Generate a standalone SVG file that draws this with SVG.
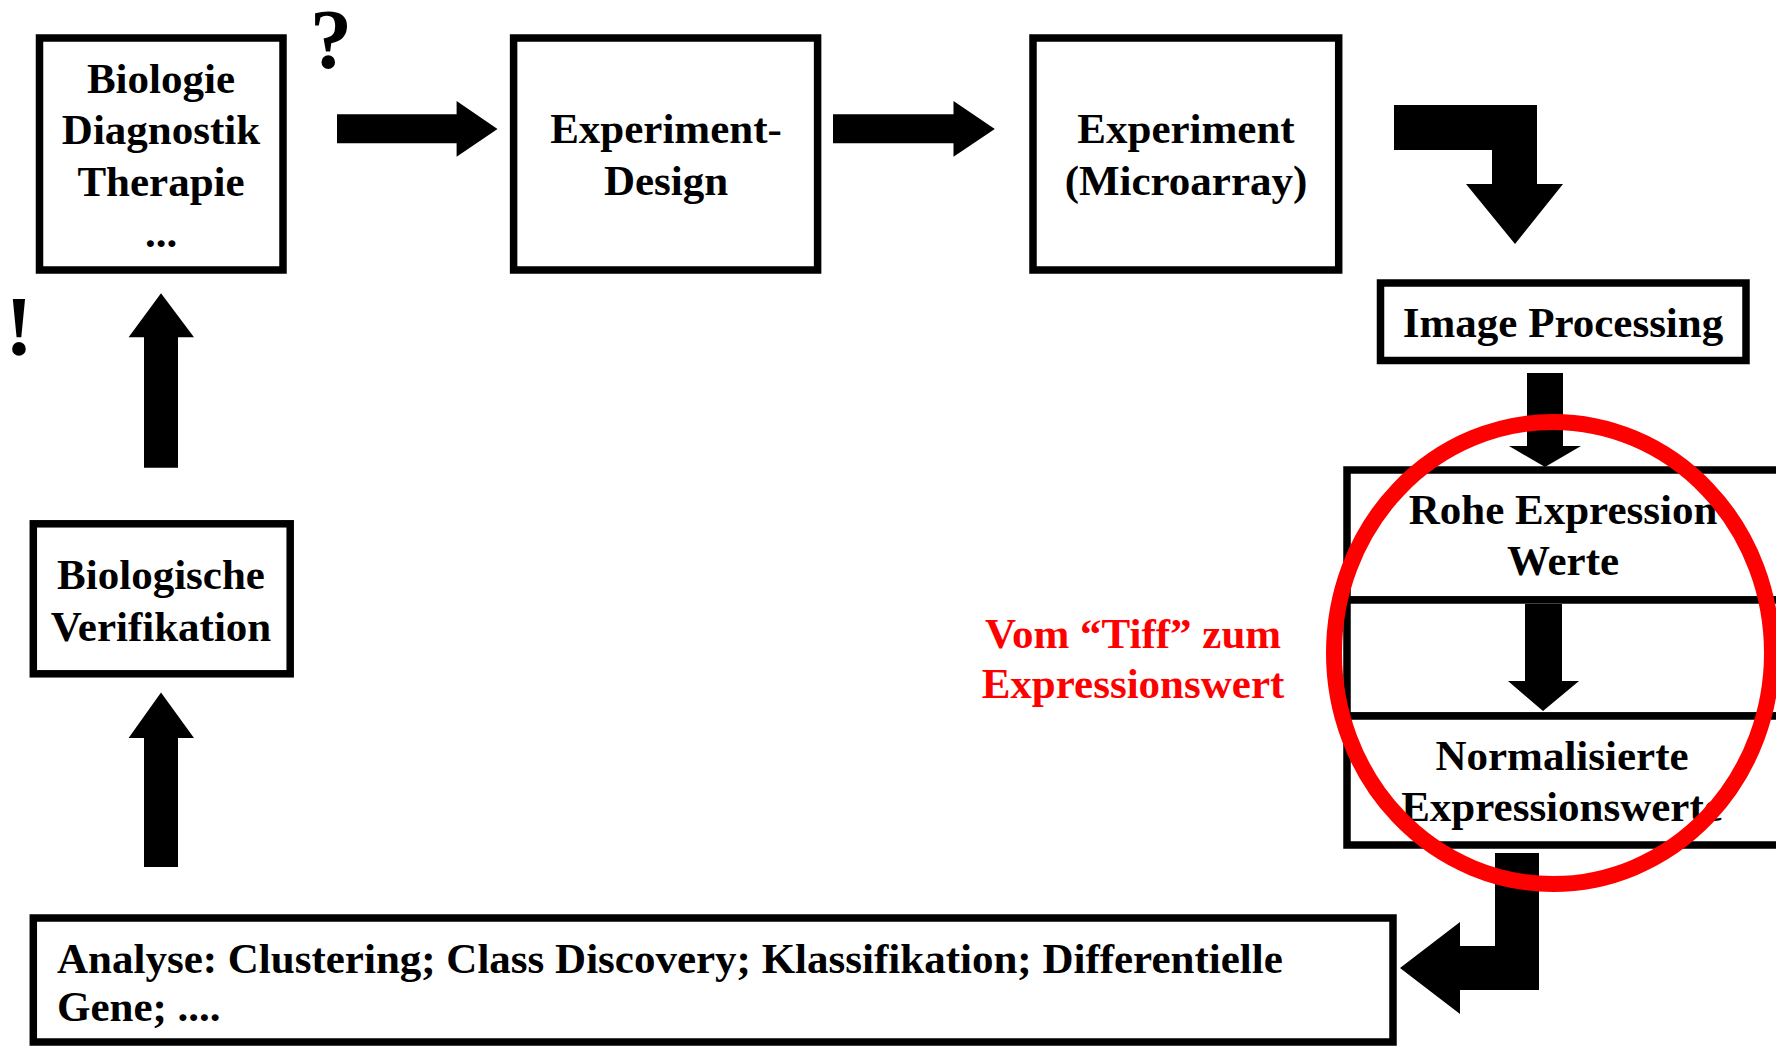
<svg xmlns="http://www.w3.org/2000/svg" width="1776" height="1046" viewBox="0 0 1776 1046">
<style>
.box{fill:#fff;stroke:#000;stroke-width:7.5}
.t{font-family:"Liberation Serif","Times New Roman",serif;font-weight:bold;font-size:43px;fill:#000;text-anchor:middle}
.l{text-anchor:start}
.big{font-size:84px}
.red{fill:#ff0000}
.arrow{fill:#000;stroke:none}
</style>
<rect width="1776" height="1046" fill="#fff"/>
<g id="connectors">
<polygon class="arrow" points="337,114.3 456.6,114.3 456.6,101 497.5,129 456.6,156.7 456.6,143.3 337,143.3"/>
<polygon class="arrow" points="833,114.3 953.5,114.3 953.5,101 994.8,129 953.5,156.7 953.5,143.3 833,143.3"/>
<polygon class="arrow" points="1394,105 1537,105 1537,184 1563,184 1515,244 1466,184 1492,184 1492,150 1394,150"/>
<polygon class="arrow" points="1527,373 1563,373 1563,446 1581,446 1545,467 1509,446 1527,446"/>
<polygon class="arrow" points="1495,853 1539,853 1539,990 1460,990 1460,1014 1400,968 1460,922 1460,946 1495,946"/>
<polygon class="arrow" points="144,467.7 144,337.3 128.6,337.3 161,293.3 194,337.3 178,337.3 178,467.7"/>
<polygon class="arrow" points="144,867 144,738 128.6,738 161,692.5 194,738 178,738 178,867"/>
</g>
<g id="node-biologie">
<rect class="box" x="39.5" y="38" width="243.5" height="232"/>
<text class="t" x="161" y="93">Biologie</text>
<text class="t" x="161" y="144">Diagnostik</text>
<text class="t" x="161" y="196">Therapie</text>
<text class="t" x="161" y="247">...</text>
</g>
<text class="t big" x="331" y="68">?</text>
<text class="t big" x="19" y="355">!</text>
<g id="node-design">
<rect class="box" x="513.6" y="38" width="304" height="232"/>
<text class="t" x="666" y="143">Experiment-</text>
<text class="t" x="666" y="195">Design</text>
</g>
<g id="node-experiment">
<rect class="box" x="1033" y="38" width="305.7" height="232"/>
<text class="t" x="1186" y="143">Experiment</text>
<text class="t" x="1186" y="195">(Microarray)</text>
</g>
<g id="node-image">
<rect class="box" x="1380.5" y="283" width="365.5" height="77.5"/>
<text class="t" x="1563" y="337">Image Processing</text>
</g>
<g id="node-rohe">
<rect class="box" x="1347" y="470" width="500" height="130"/>
<text class="t" x="1563" y="524">Rohe Expression</text>
<text class="t" x="1563" y="575">Werte</text>
</g>
<g id="node-mid">
<rect class="box" x="1347" y="600" width="500" height="116"/>
<polygon class="arrow" points="1525,604 1562,604 1562,681 1579,681 1543,711 1508,681 1525,681"/>
</g>
<g id="node-norm">
<rect class="box" x="1347" y="716" width="500" height="129"/>
<text class="t" x="1562" y="770">Normalisierte</text>
<text class="t" x="1562" y="821">Expressionswerte</text>
</g>
<g id="node-verifikation">
<rect class="box" x="33.3" y="523.8" width="256.9" height="150"/>
<text class="t" x="161" y="589">Biologische</text>
<text class="t" x="161" y="641">Verifikation</text>
</g>
<g id="node-analyse">
<rect class="box" x="33.3" y="918" width="1359.7" height="124"/>
<text class="t l" x="57" y="972.5">Analyse: Clustering; Class Discovery; Klassifikation; Differentielle</text>
<text class="t l" x="57" y="1021">Gene; ....</text>
</g>
<g id="label-tiff">
<text class="t red" x="1133" y="648">Vom “Tiff” zum</text>
<text class="t red" x="1133" y="698">Expressionswert</text>
</g>
<ellipse id="highlight" cx="1553" cy="653" rx="219" ry="231" fill="none" stroke="#ff0000" stroke-width="16"/>
</svg>
